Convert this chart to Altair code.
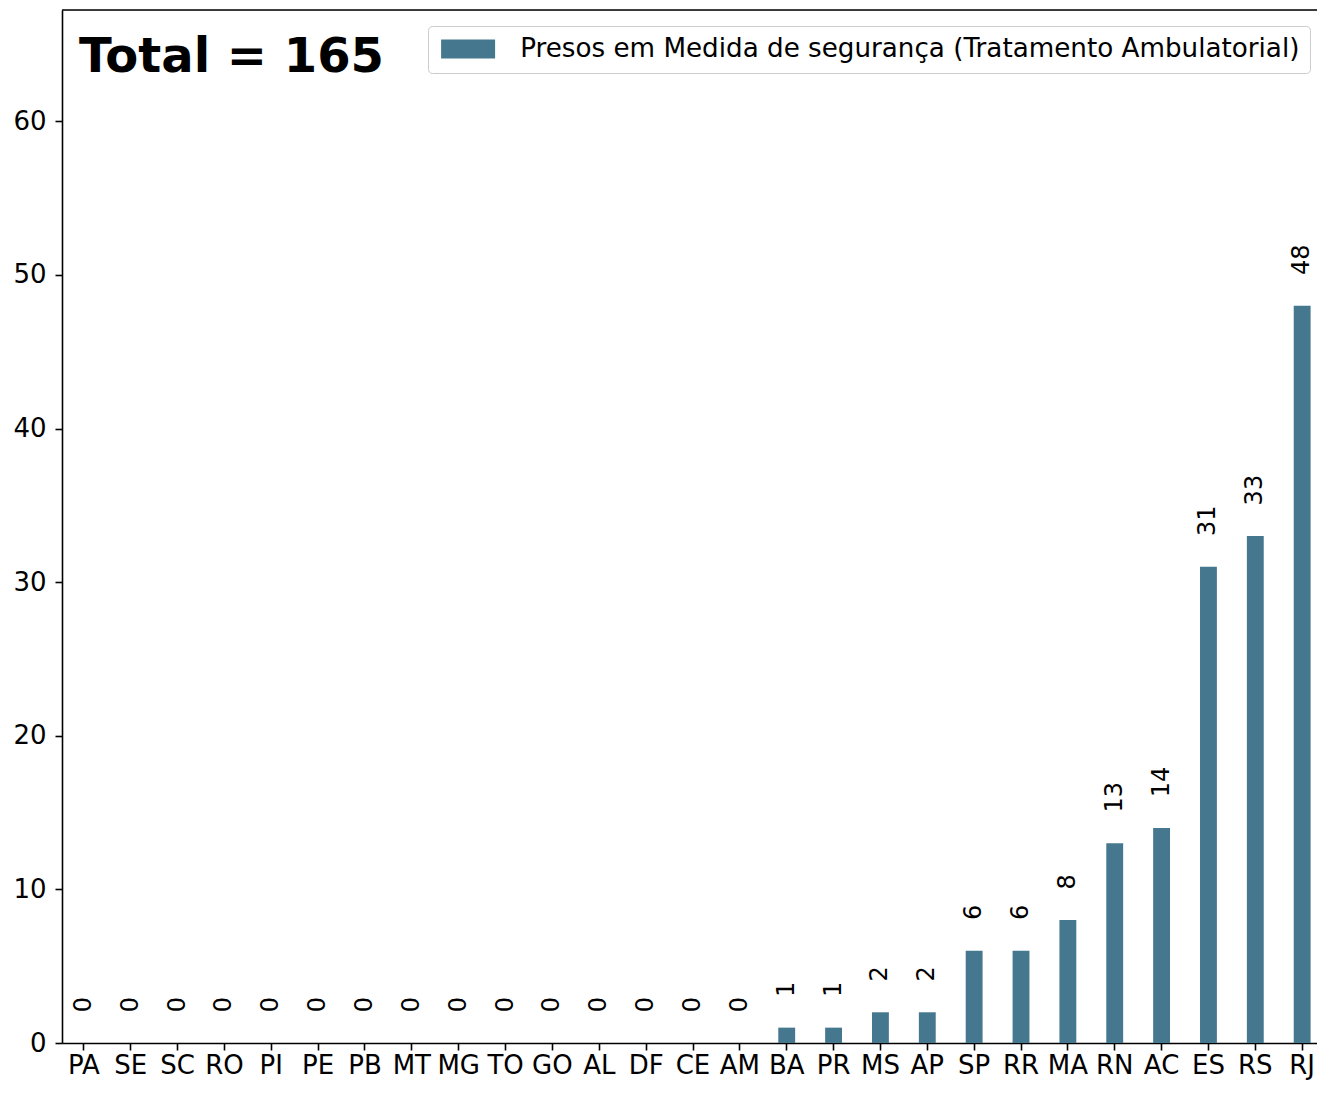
import altair as alt
import pandas as pd

# ---- data ----
states = ["PA", "SE", "SC", "RO", "PI", "PE", "PB", "MT", "MG", "TO", "GO", "AL",
          "DF", "CE", "AM", "BA", "PR", "MS", "AP", "SP", "RR", "MA", "RN", "AC",
          "ES", "RS", "RJ"]
values = [0, 0, 0, 0, 0, 0, 0, 0, 0, 0, 0, 0,
          0, 0, 0, 1, 1, 2, 2, 6, 6, 8, 13, 14,
          31, 33, 48]
series_name = "Presos em Medida de segurança (Tratamento Ambulatorial)"
y_ticks = [0, 10, 20, 30, 40, 50, 60]

bar_color = "#45788f"
FONT = "DejaVu Sans"

df = pd.DataFrame({"UF": states, "Presos": values, "Serie": series_name})
total_df = pd.DataFrame({"t": [f"Total = {sum(values)}"]})
frame_df = pd.DataFrame({"k": [0]})

x_enc = alt.X(
    "UF:N",
    sort=states,
    title=None,
    scale=alt.Scale(range=[0, 1262], paddingInner=0.64, paddingOuter=0.286),
    axis=alt.Axis(labelAngle=0, tickSize=7, labelPadding=2, domainColor="black",
                  tickColor="black", domainWidth=1.6, tickWidth=1.6,
                  labelFont=FONT, labelFontSize=26, labelColor="black", grid=False),
)
y_scale = alt.Scale(domain=[0, 67.25], nice=False, zero=True)
y_axis = alt.Axis(values=y_ticks, tickSize=7, labelPadding=9, domainColor="black",
                  tickColor="black", domainWidth=1.6, tickWidth=1.6,
                  labelFont=FONT, labelFontSize=26, labelColor="black", grid=False,
                  title=None)

bars = alt.Chart(df).mark_bar(opacity=1).encode(
    x=x_enc,
    y=alt.Y("Presos:Q", scale=y_scale, axis=y_axis),
    color=alt.Color(
        "Serie:N",
        scale=alt.Scale(domain=[series_name], range=[bar_color]),
        legend=alt.Legend(
            title=None, orient="none", legendX=366, legendY=16, padding=10,
            strokeColor="#cccccc", fillColor="white", cornerRadius=4,
            labelFont=FONT, labelFontSize=26.2, labelColor="black", labelLimit=1000,
            symbolType="M-1,-0.95H4.4V0.95H-1Z", symbolSize=400,
            symbolStrokeWidth=0, symbolOpacity=1, labelOffset=56,
        ),
    ),
)

labels = alt.Chart(df).transform_calculate(
    ly="datum.Presos + 2"
).mark_text(
    angle=270, align="left", baseline="middle", font=FONT, fontSize=24, color="black"
).encode(
    x=alt.X("UF:N", sort=states),
    y=alt.Y("ly:Q", scale=y_scale),
    text=alt.Text("Presos:Q"),
)

top_spine = alt.Chart(frame_df).mark_rule(color="black", strokeWidth=1.6).encode(
    y=alt.value(0)
)

total_text = alt.Chart(total_df).mark_text(
    align="left", baseline="alphabetic", font=FONT, fontSize=48, fontWeight="bold",
    color="black"
).encode(x=alt.value(17), y=alt.value(62), text="t:N")

chart = alt.layer(bars, labels, top_spine, total_text).properties(
    width=1255,
    height=1033,
    autosize=alt.AutoSizeParams(type="none"),
    padding={"left": 54, "top": 2, "right": 0, "bottom": 39},
).configure_view(stroke=None).configure(background="white")

chart.save("out.html", embed_options={"renderer": "svg", "actions": False})
